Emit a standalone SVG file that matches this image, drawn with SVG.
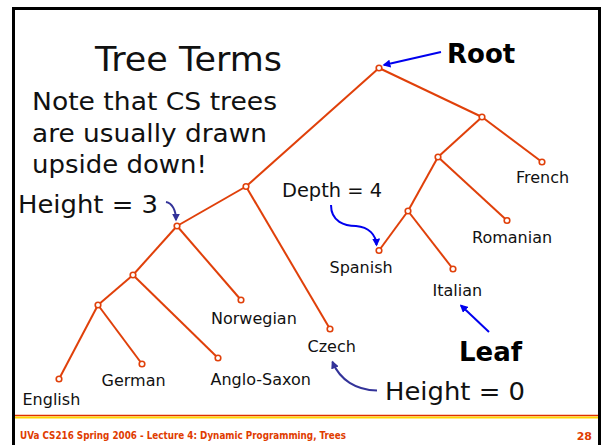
<svg xmlns="http://www.w3.org/2000/svg" width="602" height="445" viewBox="0 0 602 445">
  <defs>
    <style>
      text { font-family: "DejaVu Sans", Verdana, sans-serif; fill: #111; }
      .title { font-size: 34px; }
      .big { font-size: 25px; }
      .mid { font-size: 19px; }
      .lab { font-size: 16px; }
      .bold { font-size: 26px; font-weight: bold; fill: #000; }
      .foot { font-family: "DejaVu Sans Condensed", "DejaVu Sans", sans-serif; font-size: 10px; font-weight: bold; fill: #e03c00; }
      .num { font-size: 11px; font-weight: bold; fill: #e03c00; }
      .edge { stroke: #e0400a; stroke-width: 2; fill: none; }
      .node { stroke: #e0400a; stroke-width: 1.6; fill: #fff; }
      .blue { stroke: #0000ee; stroke-width: 2; fill: none; }
      .navy { stroke: #333399; stroke-width: 2; fill: none; }
    </style>
    <marker id="ahBlue" viewBox="0 0 10 10" refX="8" refY="5" markerWidth="4" markerHeight="4" orient="auto">
      <path d="M0,0 L10,5 L0,10 z" fill="#0000ee"/>
    </marker>
    <marker id="ahNavy" viewBox="0 0 10 10" refX="8" refY="5" markerWidth="4" markerHeight="4" orient="auto">
      <path d="M0,0 L10,5 L0,10 z" fill="#333399"/>
    </marker>
  </defs>

  <!-- slide frame -->
  <rect x="0" y="0" width="602" height="445" fill="#fff"/>
  <rect x="13.5" y="8.5" width="586" height="450" fill="none" stroke="#000" stroke-width="3"/>

  <!-- footer rule and text -->
  <line x1="15" y1="415.5" x2="598" y2="415.5" stroke="#e03000" stroke-width="1.5"/>
  <line x1="15" y1="417.5" x2="598" y2="417.5" stroke="#ffd400" stroke-width="2"/>
  <text class="foot" x="20" y="439" textLength="326" lengthAdjust="spacingAndGlyphs">UVa CS216 Spring 2006 - Lecture 4: Dynamic Programming, Trees</text>
  <text class="num" x="592" y="440" text-anchor="end">28</text>

  <!-- headings -->
  <text class="title" x="95" y="71" textLength="187" lengthAdjust="spacingAndGlyphs">Tree Terms</text>
  <text class="big" x="32" y="110" textLength="245" lengthAdjust="spacingAndGlyphs">Note that CS trees</text>
  <text class="big" x="32" y="141.5" textLength="235" lengthAdjust="spacingAndGlyphs">are usually drawn</text>
  <text class="big" x="32" y="173" textLength="175" lengthAdjust="spacingAndGlyphs">upside down!</text>

  <!-- tree edges -->
  <g id="edges">
    <line class="edge" x1="379" y1="68" x2="482" y2="117"/>
    <line class="edge" x1="379" y1="68" x2="246" y2="186.5"/>
    <line class="edge" x1="482" y1="117" x2="542" y2="162"/>
    <line class="edge" x1="482" y1="117" x2="438" y2="157"/>
    <line class="edge" x1="438" y1="157" x2="507" y2="220.5"/>
    <line class="edge" x1="438" y1="157" x2="408" y2="211"/>
    <line class="edge" x1="408" y1="211" x2="379" y2="250.5"/>
    <line class="edge" x1="408" y1="211" x2="453" y2="269"/>
    <line class="edge" x1="246" y1="186.5" x2="177" y2="226"/>
    <line class="edge" x1="246" y1="186.5" x2="330" y2="329"/>
    <line class="edge" x1="177" y1="226" x2="133" y2="275"/>
    <line class="edge" x1="177" y1="226" x2="241" y2="300"/>
    <line class="edge" x1="133" y1="275" x2="98" y2="305"/>
    <line class="edge" x1="133" y1="275" x2="218" y2="358"/>
    <line class="edge" x1="98" y1="305" x2="59" y2="379"/>
    <line class="edge" x1="98" y1="305" x2="142" y2="364"/>
  </g>

  <!-- tree nodes -->
  <g id="n-root"><circle class="node" cx="379" cy="68" r="2.8"/></g>
  <g id="n-romance"><circle class="node" cx="482" cy="117" r="2.8"/></g>
  <g id="n-french"><circle class="node" cx="542" cy="162" r="2.8"/><text class="lab" x="516" y="183">French</text></g>
  <g id="n-ibero"><circle class="node" cx="438" cy="157" r="2.8"/></g>
  <g id="n-romanian"><circle class="node" cx="507" cy="220.5" r="2.8"/><text class="lab" x="472" y="243">Romanian</text></g>
  <g id="n-italo"><circle class="node" cx="408" cy="211" r="2.8"/></g>
  <g id="n-spanish"><circle class="node" cx="379" cy="250.5" r="2.8"/><text class="lab" x="329.5" y="273">Spanish</text></g>
  <g id="n-italian"><circle class="node" cx="453" cy="269" r="2.8"/><text class="lab" x="432.5" y="296">Italian</text></g>
  <g id="n-north"><circle class="node" cx="246" cy="186.5" r="2.8"/></g>
  <g id="n-czech"><circle class="node" cx="330" cy="329" r="2.8"/><text class="lab" x="307.5" y="352">Czech</text></g>
  <g id="n-germanic"><circle class="node" cx="177" cy="226" r="2.8"/></g>
  <g id="n-norwegian"><circle class="node" cx="241" cy="300" r="2.8"/><text class="lab" x="211" y="324">Norwegian</text></g>
  <g id="n-west"><circle class="node" cx="133" cy="275" r="2.8"/></g>
  <g id="n-anglosaxon"><circle class="node" cx="218" cy="358" r="2.8"/><text class="lab" x="210.5" y="385">Anglo-Saxon</text></g>
  <g id="n-anglo"><circle class="node" cx="98" cy="305" r="2.8"/></g>
  <g id="n-english"><circle class="node" cx="59" cy="379" r="2.8"/><text class="lab" x="22.5" y="404.5">English</text></g>
  <g id="n-german"><circle class="node" cx="142" cy="364" r="2.8"/><text class="lab" x="101.5" y="386">German</text></g>

  <!-- annotations -->
  <g id="connectors">
    <line class="blue" x1="441" y1="52" x2="384" y2="65" marker-end="url(#ahBlue)"/>
    <line class="blue" x1="489" y1="332" x2="461" y2="305.5" marker-end="url(#ahBlue)"/>
    <path class="blue" d="M331,205 C331,222 345,226 356,226 C369,227 376,235 376.5,245" marker-end="url(#ahBlue)"/>
    <path class="navy" d="M166,202 C172,203 176,210 176,220" marker-end="url(#ahNavy)"/>
    <path class="navy" d="M377,390.5 C356,390 340,380 332.5,362" marker-end="url(#ahNavy)"/>
  </g>

  <g id="lbl-root"><text class="bold" x="447" y="63">Root</text></g>
  <g id="lbl-leaf"><text class="bold" x="459" y="360.5">Leaf</text></g>
  <g id="lbl-h3"><text class="big" x="18" y="212.5" textLength="140" lengthAdjust="spacingAndGlyphs">Height = 3</text></g>
  <g id="lbl-d4"><text class="mid" x="282" y="197" textLength="100" lengthAdjust="spacingAndGlyphs">Depth = 4</text></g>
  <g id="lbl-h0"><text class="big" x="385" y="400" textLength="140" lengthAdjust="spacingAndGlyphs">Height = 0</text></g>
</svg>
